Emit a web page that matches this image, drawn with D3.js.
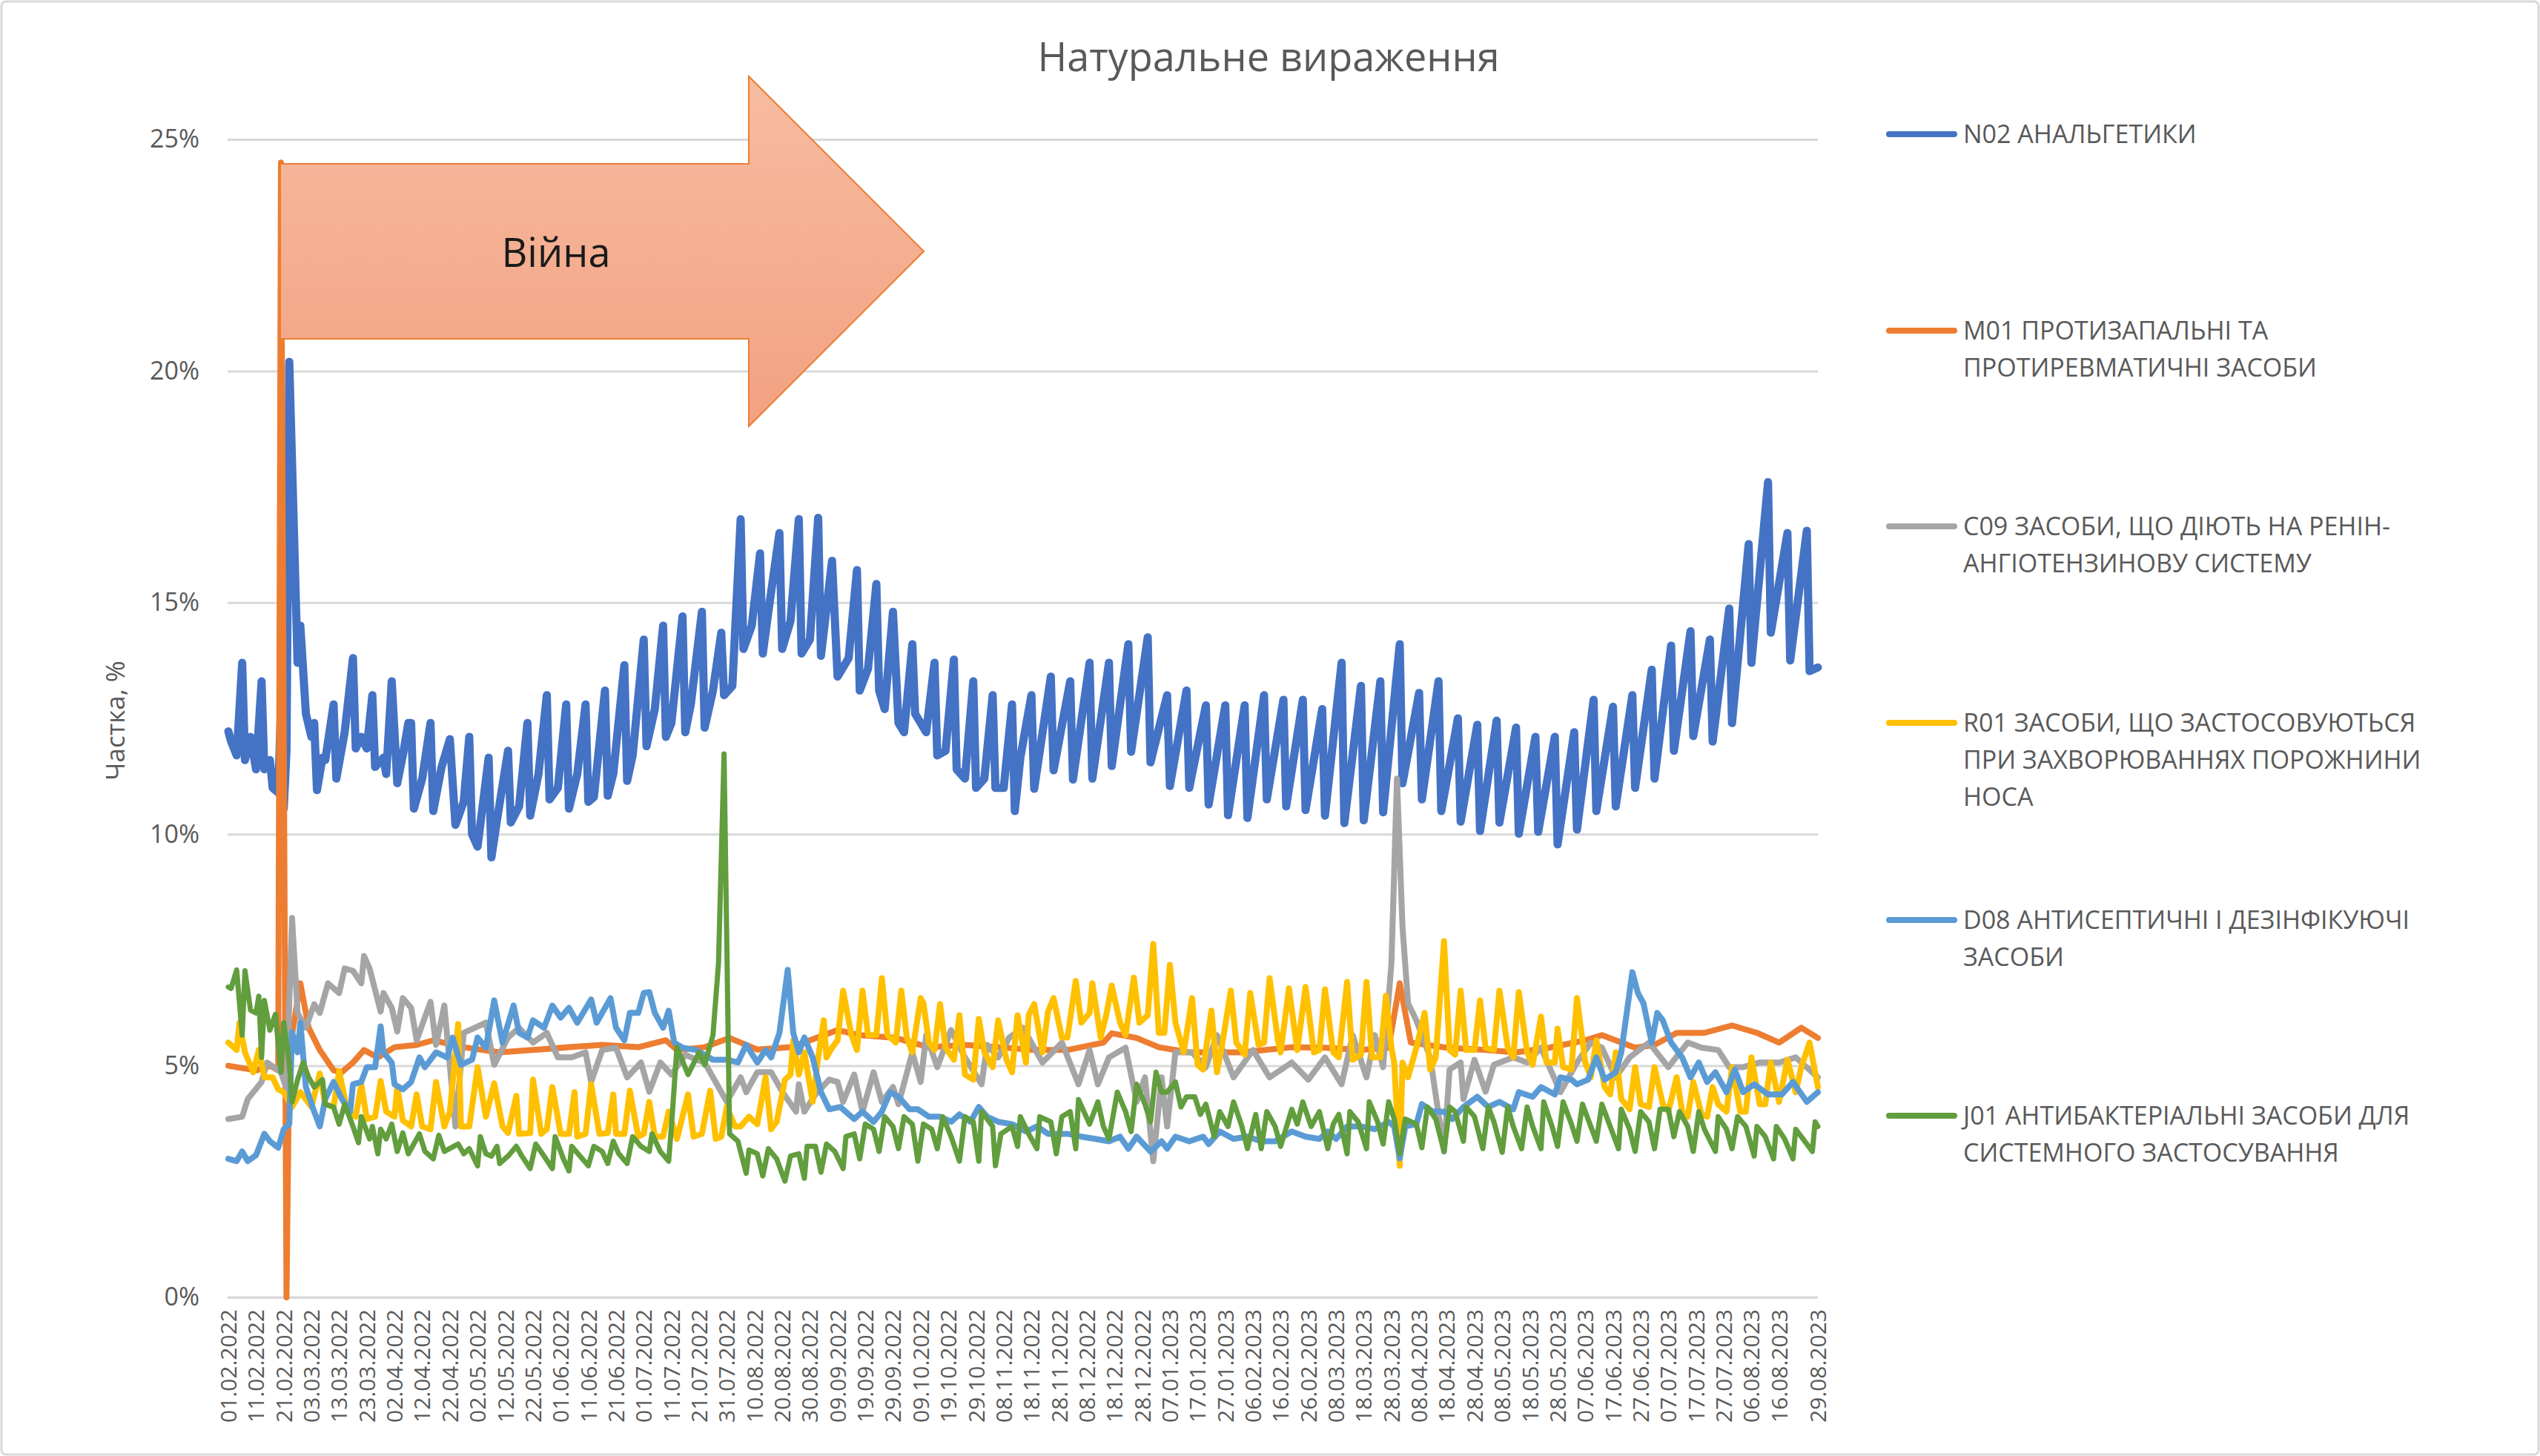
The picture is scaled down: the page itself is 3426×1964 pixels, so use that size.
<!DOCTYPE html>
<html><head><meta charset="utf-8">
<script src="https://cdn.jsdelivr.net/npm/d3@7/dist/d3.min.js"></script>
<style>body{margin:0;background:#fff}svg{display:block;font-family:"Open Sans",sans-serif}</style>
</head><body>
<svg id="c" width="3426" height="1964"></svg>
<script>
const title = "Натуральне вираження";
const yTitle = "Частка, %";
const yTicks = [0,5,10,15,20,25];
const xLabels = ["01.02.2022","11.02.2022","21.02.2022","03.03.2022","13.03.2022","23.03.2022","02.04.2022","12.04.2022","22.04.2022","02.05.2022","12.05.2022","22.05.2022","01.06.2022","11.06.2022","21.06.2022","01.07.2022","11.07.2022","21.07.2022","31.07.2022","10.08.2022","20.08.2022","30.08.2022","09.09.2022","19.09.2022","29.09.2022","09.10.2022","19.10.2022","29.10.2022","08.11.2022","18.11.2022","28.11.2022","08.12.2022","18.12.2022","28.12.2022","07.01.2023","17.01.2023","27.01.2023","06.02.2023","16.02.2023","26.02.2023","08.03.2023","18.03.2023","28.03.2023","08.04.2023","18.04.2023","28.04.2023","08.05.2023","18.05.2023","28.05.2023","07.06.2023","17.06.2023","27.06.2023","07.07.2023","17.07.2023","27.07.2023","06.08.2023","16.08.2023","29.08.2023"];
const xLabelDays = xLabels.map((d,i)=> i<xLabels.length-1 ? i*10 : 574);
const seriesNames = ["N02 АНАЛЬГЕТИКИ","M01 ПРОТИЗАПАЛЬНІ ТА ПРОТИРЕВМАТИЧНІ ЗАСОБИ","C09 ЗАСОБИ, ЩО ДІЮТЬ НА РЕНІН-АНГІОТЕНЗИНОВУ СИСТЕМУ","R01 ЗАСОБИ, ЩО ЗАСТОСОВУЮТЬСЯ ПРИ ЗАХВОРЮВАННЯХ ПОРОЖНИНИ НОСА","D08 АНТИСЕПТИЧНІ І ДЕЗІНФІКУЮЧІ ЗАСОБИ","J01 АНТИБАКТЕРІАЛЬНІ ЗАСОБИ ДЛЯ СИСТЕМНОГО ЗАСТОСУВАННЯ"];
const legendLines = [["N02 АНАЛЬГЕТИКИ"],["M01 ПРОТИЗАПАЛЬНІ ТА","ПРОТИРЕВМАТИЧНІ ЗАСОБИ"],["C09 ЗАСОБИ, ЩО ДІЮТЬ НА РЕНІН-","АНГІОТЕНЗИНОВУ СИСТЕМУ"],["R01 ЗАСОБИ, ЩО ЗАСТОСОВУЮТЬСЯ","ПРИ ЗАХВОРЮВАННЯХ ПОРОЖНИНИ","НОСА"],["D08 АНТИСЕПТИЧНІ І ДЕЗІНФІКУЮЧІ","ЗАСОБИ"],["J01 АНТИБАКТЕРІАЛЬНІ ЗАСОБИ ДЛЯ","СИСТЕМНОГО ЗАСТОСУВАННЯ"]];
const colors = ["#4472C4","#ED7D31","#A5A5A5","#FFC000","#5B9BD5","#629D3E"];
const annotation = "Війна";

// [day index, share %]
const n02 = [[0,12.22],[1,12.0],[3,11.7],[5,13.7],[6,11.6],[8,12.1],[10,11.4],[12,13.3],[13,11.4],[15,11.6],[16,11.0],[18,10.9],[19,12.7],[20,10.55],[21,11.8],[22,20.2],[25,13.7],[26,14.5],[28,12.6],[30,12.1],[31,12.4],[32,10.95],[34,11.65],[35,11.6],[38,12.8],[39,11.2],[42,12.2],[45,13.8],[46,11.85],[48,12.1],[50,11.85],[52,13.0],[53,11.45],[56,11.65],[57,11.3],[59,13.3],[61,11.1],[63,11.7],[65,12.4],[66,12.4],[67,10.55],[70,11.2],[73,12.4],[74,10.5],[77,11.45],[80,12.05],[82,10.2],[85,10.7],[87,12.1],[88,10.0],[90,9.73],[94,11.65],[95,9.5],[97,10.3],[101,11.8],[102,10.25],[105,10.6],[108,12.4],[109,10.4],[112,11.3],[115,13.0],[116,10.75],[119,11.0],[122,12.8],[123,10.55],[126,11.3],[129,12.8],[130,10.7],[132,10.8],[136,13.1],[137,10.83],[139,11.3],[143,13.65],[144,11.15],[146,11.7],[150,14.2],[151,11.9],[154,12.7],[157,14.5],[158,12.1],[160,12.4],[164,14.7],[165,12.2],[167,12.8],[171,14.8],[172,12.3],[175,13.1],[178,14.35],[179,13.0],[182,13.2],[185,16.8],[186,14.0],[189,14.5],[192,16.06],[193,13.9],[195,14.8],[199,16.5],[200,14.0],[203,14.6],[206,16.8],[207,13.9],[210,14.2],[213,16.83],[214,13.85],[218,15.9],[220,13.4],[224,13.8],[227,15.7],[228,13.1],[231,13.57],[234,15.4],[235,13.1],[237,12.7],[240,14.8],[242,12.4],[244,12.2],[247,14.1],[248,12.6],[252,12.2],[255,13.7],[256,11.7],[259,11.8],[262,13.77],[263,11.4],[266,11.2],[269,13.3],[270,11.0],[273,11.2],[276,13.0],[277,11.0],[280,11.0],[283,12.8],[284,10.5],[286,11.65],
[290,13.0],[291,10.98],[297,13.4],[298,11.38],[304,13.3],[305,11.18],[311,13.7],[312,11.2],[318,13.7],[319,11.47],[325,14.1],[326,11.78],[332,14.25],[333,11.55],[339,13.0],[340,11.04],[346,13.1],[347,11.0],[353,12.78],[354,10.64],[360,12.78],[361,10.41],[367,12.78],[368,10.35],[374,13.0],[375,10.75],[381,12.9],[382,10.6],[388,12.9],[389,10.52],[395,12.7],[396,10.4],[402,13.7],[403,10.24],[409,13.2],[410,10.3],[416,13.3],[417,10.47],[423,14.1],[424,11.1],[430,13.05],[431,10.75],[437,13.3],[438,10.5],[444,12.5],[445,10.27],[451,12.36],[452,10.07],[458,12.45],[459,10.25],[465,12.3],[466,10.01],[472,12.1],[473,10.05],[479,12.1],[480,9.78],[486,12.2],[487,10.1],[493,12.9],[494,10.5],[500,12.75],[501,10.6],[507,13.0],[508,11.0],[514,13.55],[515,11.2],[521,14.07],[522,11.8],[528,14.38],[529,12.12],[535,14.2],[536,12.0],[542,14.87],[543,12.4],[549,16.26],[550,13.7],[556,17.6],[557,14.35],[563,16.5],[564,13.75],[570,16.55],[571,13.52],[574,13.6]];
const m01 = [[0,5.0],[10,4.9],[15,5.0],[18,4.9],[19,24.5],[21,0],[22,5.3],[26,6.78],[29,5.82],[33,5.34],[38,4.9],[41,4.86],[45,5.07],[49,5.34],[54,5.18],[60,5.4],[68,5.45],[74,5.55],[85,5.4],[98,5.29],[110,5.34],[123,5.4],[135,5.45],[148,5.4],[158,5.55],[162,5.34],[172,5.4],[181,5.6],[191,5.35],[203,5.4],[210,5.55],[220,5.77],[228,5.66],[241,5.6],[253,5.4],[266,5.45],[278,5.4],[291,5.34],[303,5.34],[316,5.5],[319,5.7],[328,5.6],[336,5.4],[347,5.29],[366,5.29],[384,5.4],[396,5.39],[409,5.34],[419,5.39],[423,6.78],[427,5.5],[440,5.39],[454,5.34],[465,5.29],[477,5.39],[490,5.55],[496,5.66],[508,5.39],[515,5.45],[523,5.71],[533,5.71],[543,5.87],[552,5.71],[560,5.5],[568,5.82],[574,5.6]];
const c09 = [[0,3.85],[5,3.9],[7,4.28],[12,4.65],[14,5.07],[19,4.86],[21,4.5],[23,8.19],[25,6.14],[28,5.82],[31,6.33],[33,6.14],[36,6.78],[40,6.57],[42,7.1],[45,7.05],[48,6.78],[49,7.37],[51,7.1],[55,6.17],[56,6.57],[59,6.25],[61,5.74],[63,6.46],[66,6.25],[68,5.55],[73,6.38],[75,5.45],[78,6.3],[82,3.69],[85,5.71],[89,5.82],[93,5.93],[96,5.02],[101,5.61],[105,5.82],[110,5.5],[115,5.71],[119,5.18],[124,5.18],[129,5.29],[131,4.65],[135,5.34],[140,5.39],[144,4.75],[149,5.07],[152,4.44],[156,5.07],[160,4.81],[165,5.24],[169,5.13],[172,5.07],[180,4.22],[185,4.75],[187,4.43],[191,4.86],[196,4.86],[200,4.44],[205,4.01],[206,4.6],[208,4.01],[212,4.38],[217,4.7],[220,4.65],[222,4.22],[226,4.81],[229,4.01],[233,4.86],[236,4.22],[240,4.54],[242,4.17],[247,5.29],[250,4.65],[252,5.66],[256,4.97],[261,5.77],[266,5.18],[272,4.6],[274,5.45],[278,5.18],[282,5.61],[287,5.82],[294,5.07],[301,5.5],[307,4.6],[311,5.34],[314,4.6],[318,5.18],[324,5.39],[328,4.22],[331,4.75],[334,2.94],[337,4.75],[339,3.69],[342,5.29],[348,5.29],[353,4.97],[357,5.66],[363,4.75],[370,5.34],[376,4.75],[384,5.07],[390,4.7],[396,5.18],[402,4.6],[406,5.66],[411,4.75],[414,5.66],[417,4.97],[420,7.21],[422,11.2],[424,8.0],[426,6.35],[429,5.98],[434,5.18],[439,3.15],[441,4.92],[445,5.07],[446,4.28],[450,5.13],[454,4.44],[457,5.02],[464,5.18],[469,5.07],[474,5.39],[481,4.43],[487,5.07],[492,5.5],[496,5.39],[501,4.75],[506,5.18],[513,5.5],[520,4.97],[527,5.5],[532,5.39],[538,5.34],[542,4.97],[547,4.97],[553,5.07],[560,5.07],[566,5.18],[574,4.75]];
const r01 = [[0,5.5],[3,5.34],[4,5.93],[6,5.29],[9,4.86],[11,5.34],[13,4.75],[16,4.75],[18,4.49],[20,4.43],[23,4.11],[26,4.43],[30,4.11],[33,4.83],[35,4.17],[38,4.11],[40,4.89],[43,4.01],[46,3.9],[48,4.6],[50,3.85],[53,3.9],[55,4.67],[57,4.01],[60,3.9],[61,4.54],[63,3.82],[66,3.69],[68,4.38],[70,3.69],[73,3.63],[75,4.65],[78,3.69],[80,4.01],[83,5.9],[84,3.69],[87,3.69],[90,4.97],[93,3.9],[96,4.62],[99,3.69],[101,3.55],[104,4.35],[105,3.53],[109,3.55],[110,4.7],[113,3.53],[115,3.63],[117,4.54],[120,3.53],[123,3.53],[125,4.43],[126,3.47],[129,3.53],[131,4.6],[134,3.53],[137,3.55],[139,4.38],[140,3.53],[143,3.53],[145,4.46],[148,3.47],[150,3.53],[152,4.22],[154,3.47],[157,3.47],[159,4.01],[162,3.42],[166,4.38],[168,3.47],[171,3.53],[174,4.46],[176,3.42],[178,3.47],[180,4.11],[183,3.69],[185,3.69],[188,3.9],[191,3.74],[194,4.75],[196,3.63],[198,3.79],[201,4.7],[203,4.81],[204,5.55],[206,4.81],[208,5.29],[211,4.22],[213,5.18],[215,5.98],[216,5.18],[218,5.39],[220,5.55],[222,6.62],[225,5.66],[227,5.34],[229,6.62],[231,5.66],[234,5.66],[236,6.89],[238,5.66],[241,5.5],[243,6.62],[245,5.61],[247,5.29],[250,6.46],[251,6.35],[253,5.5],[255,5.34],[257,6.33],[259,5.39],[262,5.13],[264,6.09],[266,4.81],[269,4.7],[271,6.01],[273,5.29],[276,4.97],[278,5.98],[281,5.13],[283,4.86],[285,6.09],[288,5.07],[289,6.09],[291,6.33],[294,5.29],[296,6.17],[298,6.46],[301,5.61],[303,5.61],[306,6.83],[308,5.93],[311,6.14],[312,6.78],[315,5.61],[317,6.09],[319,6.73],[322,5.93],[324,5.66],[327,6.9],[329,5.93],[332,6.09],[334,7.63],[336,5.71],[338,5.71],[340,7.18],[342,5.93],[345,5.29],[348,6.46],[350,5.02],[352,4.92],[355,6.19],[357,4.86],[359,5.5],[362,6.62],[364,5.5],[367,5.24],[369,6.57],[372,5.45],[374,5.5],[376,6.89],[379,5.55],[380,5.29],[383,6.67],[386,5.34],[389,6.7],[392,5.29],[394,5.34],[396,6.65],[399,5.29],[401,5.18],[404,6.81],[406,5.13],[409,5.24],[411,6.81],[413,5.18],[416,5.18],[418,6.51],[420,5.39],[421,5.07],[423,2.84],[424,5.07],[426,4.75],[429,5.39],[432,6.14],[434,4.92],[436,5.18],[439,7.69],[441,5.34],[443,5.24],[445,6.62],[447,5.34],[450,5.34],[452,6.41],[454,5.39],[457,5.34],[459,6.62],[462,5.39],[464,5.18],[466,6.59],[469,5.29],[471,5.02],[474,6.06],[476,5.07],[479,5.07],[480,5.8],[482,4.97],[485,4.92],[487,6.46],[490,5.07],[492,4.75],[494,5.55],[497,4.54],[499,4.38],[501,5.29],[503,4.28],[506,4.06],[508,4.97],[510,4.17],[513,4.11],[515,4.97],[518,4.17],[520,4.01],[523,4.75],[525,4.01],[527,3.9],[529,4.65],[532,3.95],[534,3.9],[536,4.54],[538,4.17],[541,4.01],[543,4.97],[546,4.01],[548,4.01],[550,5.18],[553,4.17],[555,4.17],[557,5.07],[560,4.22],[563,5.13],[566,4.43],[568,4.97],[571,5.5],[574,4.54]];
const d08 = [[0,2.99],[3,2.94],[5,3.15],[7,2.94],[10,3.07],[13,3.53],[15,3.37],[18,3.23],[20,3.63],[22,3.74],[23,5.72],[25,5.29],[26,5.93],[28,4.54],[31,4.01],[33,3.69],[35,4.28],[38,4.65],[41,4.28],[44,4.01],[45,4.6],[48,4.65],[50,4.97],[53,4.97],[55,5.85],[56,5.29],[59,5.07],[60,4.6],[63,4.49],[66,4.65],[69,5.18],[71,4.97],[75,5.29],[79,5.18],[81,5.61],[84,5.02],[88,5.13],[90,5.61],[93,5.39],[96,6.41],[99,5.5],[103,6.3],[105,5.71],[108,5.61],[110,5.98],[114,5.82],[117,6.3],[120,6.04],[123,6.25],[126,5.93],[131,6.43],[133,5.93],[138,6.46],[140,5.82],[143,5.55],[145,6.14],[148,6.14],[150,6.57],[152,6.59],[154,6.14],[157,5.82],[159,6.19],[161,5.5],[164,5.39],[169,5.34],[175,5.13],[180,5.13],[184,5.07],[187,5.45],[191,5.07],[194,5.34],[196,5.18],[199,5.71],[202,7.07],[204,5.71],[206,5.29],[208,5.61],[211,5.18],[214,4.43],[217,4.06],[221,4.11],[226,3.85],[229,4.01],[233,3.79],[236,4.01],[239,4.43],[242,4.33],[246,4.06],[249,4.06],[253,3.9],[257,3.9],[261,3.79],[264,3.95],[268,3.79],[271,4.11],[274,3.9],[278,3.79],[283,3.74],[288,3.58],[292,3.69],[296,3.53],[299,3.53],[303,3.53],[308,3.47],[313,3.42],[318,3.37],[322,3.47],[325,3.21],[328,3.47],[333,3.15],[337,3.37],[339,3.21],[342,3.47],[347,3.37],[352,3.47],[354,3.31],[358,3.58],[363,3.42],[368,3.47],[373,3.37],[378,3.37],[384,3.58],[389,3.47],[394,3.42],[397,3.58],[400,3.42],[404,3.69],[409,3.69],[414,3.63],[419,3.79],[421,3.69],[423,3.0],[425,3.69],[429,3.74],[431,4.17],[435,4.01],[439,4.01],[442,3.85],[446,4.11],[451,4.33],[455,4.11],[459,4.22],[464,4.06],[466,4.43],[471,4.33],[474,4.54],[479,4.38],[481,4.75],[485,4.7],[487,4.6],[491,4.7],[494,5.18],[497,4.7],[501,4.86],[503,5.29],[507,7.02],[509,6.57],[511,6.35],[514,5.5],[516,6.14],[518,5.98],[521,5.5],[525,5.18],[528,4.75],[531,5.07],[534,4.65],[537,4.86],[541,4.43],[544,4.92],[547,4.43],[551,4.6],[556,4.38],[561,4.38],[565,4.65],[570,4.22],[574,4.43]];
const j01 = [[0,6.7],[1,6.67],[3,7.07],[5,5.66],[6,7.05],[8,6.2],[10,6.14],[11,6.5],[12,5.18],[13,6.41],[15,5.77],[17,6.11],[19,4.86],[20,5.93],[22,5.07],[23,4.22],[25,4.7],[27,5.07],[29,4.75],[31,4.54],[34,4.7],[35,4.17],[38,4.11],[40,3.74],[42,4.17],[45,3.69],[47,3.34],[48,3.9],[51,3.42],[52,3.69],[54,3.1],[55,3.63],[57,3.42],[59,3.74],[61,3.15],[63,3.55],[65,3.1],[69,3.53],[71,3.15],[74,2.99],[76,3.5],[78,3.15],[83,3.31],[85,3.1],[87,3.21],[90,2.84],[91,3.47],[93,3.1],[95,3.05],[97,3.26],[98,2.89],[101,3.05],[104,3.26],[106,3.05],[109,2.78],[111,3.31],[114,3.05],[117,2.78],[118,3.47],[121,2.99],[123,2.73],[124,3.26],[127,3.05],[130,2.84],[132,3.26],[135,3.15],[137,2.89],[139,3.37],[141,3.1],[144,2.89],[146,3.47],[149,3.26],[152,3.15],[153,3.53],[156,3.15],[159,2.94],[160,3.69],[162,5.4],[166,4.81],[170,5.29],[172,5.02],[175,5.66],[177,7.21],[179,11.73],[181,3.53],[184,3.37],[187,2.68],[188,3.18],[191,3.1],[193,2.62],[195,3.21],[198,2.99],[201,2.51],[203,3.05],[206,3.1],[208,2.57],[209,3.26],[212,3.26],[214,2.7],[216,3.31],[219,3.15],[222,2.78],[223,3.47],[226,3.53],[228,2.99],[230,3.74],[233,3.63],[235,3.15],[237,3.9],[240,3.69],[242,3.21],[244,3.9],[247,3.74],[249,2.94],[251,3.74],[254,3.63],[256,3.21],[258,3.9],[261,3.47],[264,2.94],[266,3.9],[269,3.79],[271,2.94],[272,4.01],[276,3.69],[277,2.84],[279,3.53],[283,3.69],[285,3.26],[286,3.9],[289,3.53],[292,3.21],[293,3.9],[297,3.79],[299,3.1],[301,3.9],[304,4.01],[306,3.21],[307,4.27],[311,3.74],[314,4.22],[316,3.69],[318,3.42],[321,4.43],[324,4.01],[326,3.58],[328,4.6],[331,4.17],[333,3.79],[335,4.86],[337,4.43],[339,4.43],[342,4.65],[344,4.11],[346,4.33],[349,4.33],[351,3.95],[353,4.17],[356,3.47],[358,4.01],[361,3.69],[363,4.22],[366,3.69],[368,3.21],[371,3.95],[373,3.21],[375,4.01],[378,3.69],[380,3.26],[384,4.06],[386,3.74],[388,4.22],[391,3.69],[394,4.01],[397,3.21],[399,3.74],[401,3.95],[404,3.1],[405,4.01],[408,3.79],[411,3.21],[412,4.22],[415,3.79],[417,3.31],[419,4.22],[421,3.85],[423,3.1],[425,3.85],[429,3.74],[431,3.23],[433,4.11],[436,3.85],[439,3.15],[441,4.11],[443,4.01],[446,3.37],[447,4.11],[450,3.9],[453,3.21],[455,4.11],[457,3.79],[460,3.13],[462,4.11],[464,3.69],[467,3.21],[469,4.11],[471,3.69],[474,3.21],[475,4.22],[478,3.69],[480,3.26],[482,4.22],[485,3.74],[487,3.37],[489,4.17],[492,3.69],[494,3.37],[496,4.17],[499,3.69],[502,3.21],[503,4.06],[506,3.63],[508,3.15],[510,4.01],[513,3.79],[515,3.21],[517,4.06],[520,4.06],[522,3.47],[524,4.01],[527,3.69],[529,3.15],[531,4.01],[533,3.63],[537,3.15],[538,3.9],[541,3.63],[543,3.21],[545,3.9],[548,3.69],[551,3.05],[552,3.69],[555,3.47],[558,2.99],[559,3.69],[562,3.42],[565,2.99],[566,3.63],[568,3.47],[572,3.15],[573,3.79],[574,3.69]];
const allSeries = [n02, m01, c09, r01, d08, j01];

const svg = d3.select("#c");
svg.append("rect").attr("x",2).attr("y",2).attr("width",3422).attr("height",1960).attr("rx",6)
  .attr("fill","#fff").attr("stroke","#D9D9D9").attr("stroke-width",3);

const x = d3.scaleLinear().domain([0,574]).range([308,2452]);
const y = d3.scaleLinear().domain([0,25]).range([1750,188]);

const yAxis = d3.axisLeft(y).tickValues(yTicks).tickSize(-(2452-307)).tickFormat(d=>d+"%");
const gy = svg.append("g").attr("transform","translate(307,0)").call(yAxis);
gy.select(".domain").remove();
gy.selectAll("line").attr("stroke","#D9D9D9").attr("stroke-width",3);
gy.selectAll("text").attr("x",-38).attr("font-size",34).attr("fill","#595959").attr("font-family","Open Sans");

const xAxis = d3.axisBottom(x).tickValues(xLabelDays).tickSize(0).tickFormat((d,i)=>xLabels[i]);
const gx = svg.append("g").attr("transform","translate(0,1750)").call(xAxis);
gx.select(".domain").attr("stroke","#D9D9D9").attr("stroke-width",3).attr("d","M307,0H2452");
gx.selectAll("text").attr("font-size",30).attr("fill","#595959").attr("font-family","Open Sans")
  .attr("transform","rotate(-90)").attr("text-anchor","end").attr("dy","0.35em").attr("x",-16).attr("y",0);

svg.append("text").attr("x",1711).attr("y",96).attr("text-anchor","middle").attr("font-size",54).attr("fill","#595959").text(title);
svg.append("text").attr("transform","translate(168,972) rotate(-90)").attr("text-anchor","middle").attr("font-size",35).attr("fill","#595959").text(yTitle);

const line = d3.line().x(d=>x(d[0])).y(d=>y(d[1]));
const widths = [11,8,8,8,8,7];
allSeries.forEach((s,i)=>{
  svg.append("path").datum(s).attr("d",line).attr("fill","none").attr("stroke",colors[i])
    .attr("stroke-width",widths[i]).attr("stroke-linejoin","round").attr("stroke-linecap","round");
});

const grad = svg.append("defs").append("linearGradient").attr("id","ag").attr("x1",0).attr("y1",0).attr("x2",0).attr("y2",1);
grad.append("stop").attr("offset","0%").attr("stop-color","#F7BCA0");
grad.append("stop").attr("offset","100%").attr("stop-color","#F3A182");
svg.append("path").attr("d","M378,221 L1010,221 L1010,103 L1246,339 L1010,575 L1010,457 L378,457 Z")
  .attr("fill","url(#ag)").attr("stroke","#ED7D31").attr("stroke-width",2);
svg.append("text").attr("x",750).attr("y",360).attr("text-anchor","middle").attr("font-size",54).attr("fill","#1a1a1a").text(annotation);

const ly = [181,446,710,975,1241,1505];
legendLines.forEach((ls,i)=>{
  svg.append("line").attr("x1",2548).attr("x2",2636).attr("y1",ly[i]).attr("y2",ly[i])
    .attr("stroke",colors[i]).attr("stroke-width",8).attr("stroke-linecap","round");
  const t = svg.append("text").attr("x",2648).attr("y",ly[i]).attr("font-size",34).attr("fill","#595959");
  ls.forEach((l,j)=>t.append("tspan").attr("x",2648).attr("dy", j===0?"0.35em":"1.47em").text(l));
});
</script>
</body></html>
